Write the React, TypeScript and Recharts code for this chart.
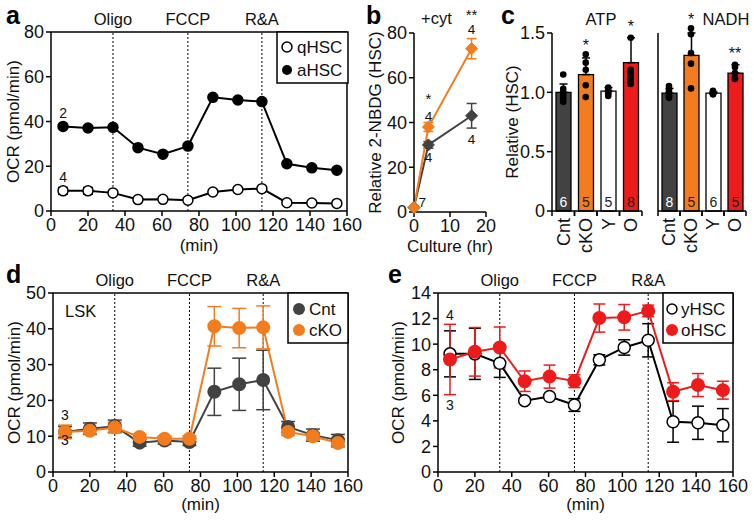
import React from 'react';
import {
  LineChart, Line, XAxis, YAxis, ErrorBar, ReferenceLine, ReferenceDot, Label,
  ComposedChart, Bar, Cell, LabelList,
} from 'recharts';

const FONT = '"Liberation Sans", Arial, Helvetica, sans-serif';
const ORANGE = '#f27c1e';
const RED = '#ec1c1c';
const DARK = '#424242';
const INK = '#111';

// Seahorse time points (min), shared by a, d, e
const times = [6.5, 20, 33.5, 47, 60.5, 74, 87.5, 101, 114, 127.5, 141, 154.5];
const injections = [
  { t: 33.5, name: 'Oligo' },
  { t: 74, name: 'FCCP' },
  { t: 114, name: 'R&A' },
];
const minTicks = [0, 20, 40, 60, 80, 100, 120, 140, 160];

// a
const qHSC = [9.0, 9.0, 8.1, 5.1, 5.2, 4.8, 8.5, 9.6, 10.0, 3.7, 3.6, 3.4];
const qHSCErr = [1.5, 1.5, 0, 0, 0, 0, 0, 0, 0, 0, 0, 0];
const aHSC = [37.8, 37.1, 37.4, 28.3, 25.4, 29.0, 50.8, 49.6, 48.9, 21.1, 19.3, 18.2];
const aNotes = [
  { t: 6.5, v: 44, s: '2' },
  { t: 6.5, v: 15.4, s: '4' },
];

// b
const cultureHr = [0, 4, 16];
const nbdgCnt = [2, 30, 43];
const nbdgCntErr = [0, 1.5, 5.5];
const nbdgCko = [2, 38, 73];
const nbdgCkoErr = [0, 2, 4.5];
const bNotes = [
  { h: 4, v: 50.5, s: '*' },
  { h: 4, v: 43, s: '4' },
  { h: 4, v: 24.5, s: '4' },
  { h: 16, v: 88, s: '**' },
  { h: 16, v: 81.5, s: '4' },
  { h: 16, v: 32.5, s: '4' },
  { h: 2.3, v: 4.5, s: '7' },
];

// c
const groups = ['Cnt', 'cKO', 'Y', 'O'];
const atpMean = [1.0, 1.15, 1.01, 1.25];
const atpSd = [0.07, 0.14, 0.03, 0.21];
const atpN = [6, 5, 5, 8];
const atpDots = [
  [1.15, 1.03, 1.0, 0.98, 0.95, 0.92],
  [1.32, 1.25, 1.19, 1.06, 0.96],
  [1.04, 1.02, 1.0, 0.99, 0.97],
  [1.46, 1.19, 1.16, 1.13, 1.11, 1.09, 1.08, 1.07],
];
const atpStars = [
  { g: 'cKO', v: 1.4, s: '*' },
  { g: 'O', v: 1.56, s: '*' },
];
const nadhMean = [1.0, 1.32, 1.0, 1.17];
const nadhSd = [0.04, 0.19, 0.01, 0.07];
const nadhN = [8, 5, 6, 5];
const nadhDots = [
  [1.06, 1.03, 1.01, 1.0, 0.99, 0.98, 0.97, 0.96],
  [1.55, 1.5, 1.34, 1.25, 1.04],
  [1.02, 1.01, 1.0, 1.0, 0.99, 0.99],
  [1.24, 1.22, 1.17, 1.13, 1.12],
];
const nadhStars = [
  { g: 'cKO', v: 1.63, s: '*' },
  { g: 'O', v: 1.34, s: '**' },
];

// d
const lskCnt = [11.2, 12.1, 12.8, 8.2, 8.8, 8.4, 22.4, 24.5, 25.7, 12.6, 10.3, 8.9];
const lskCntErr = [1.5, 1.6, 1.7, 1, 1, 1, 6.6, 7.3, 8.3, 1.5, 1.7, 1.6];
const lskCko = [11.2, 11.5, 12.4, 9.8, 9.3, 9.3, 40.7, 40.2, 40.4, 11.2, 10, 8.1];
const lskCkoErr = [1.9, 0.8, 1.5, 0.7, 0.7, 0.8, 5.5, 5.5, 6, 1, 1, 1.2];
const dNotes = [
  { t: 6.5, v: 16, s: '3' },
  { t: 6.5, v: 8.9, s: '3' },
];

// e
const yHSC = [9.24, 9.24, 8.5, 5.58, 5.9, 5.24, 8.77, 9.74, 10.3, 3.93, 3.85, 3.66];
const yHSCErr = [1.8, 2, 1.1, 0.2, 0.1, 0.5, 0.4, 0.6, 1.3, 1.6, 1.3, 1.3];
const oHSC = [8.8, 9.4, 9.74, 7.1, 7.46, 7.1, 12.04, 12.1, 12.6, 6.28, 6.8, 6.4];
const oHSCErr = [2.75, 1.9, 1.6, 0.8, 0.9, 0.5, 1.1, 1.0, 0.45, 0.7, 0.9, 0.7];
const eNotes = [
  { t: 6.5, v: 12.3, s: '4' },
  { t: 6.5, v: 5.2, s: '3' },
];

const aData = times.map((t, i) => ({ t, q: qHSC[i], qe: qHSCErr[i], a: aHSC[i] }));
const bData = cultureHr.map((h, i) => ({
  h, cnt: nbdgCnt[i], cntE: nbdgCntErr[i], cko: nbdgCko[i], ckoE: nbdgCkoErr[i],
}));
const atpData = groups.map((g, i) => ({ g, v: atpMean[i], e: [0, atpSd[i]], n: atpN[i] }));
const nadhData = groups.map((g, i) => ({ g, v: nadhMean[i], e: [0, nadhSd[i]], n: nadhN[i] }));
const dData = times.map((t, i) => ({ t, c: lskCnt[i], ce: lskCntErr[i], k: lskCko[i], ke: lskCkoErr[i] }));
const eData = times.map((t, i) => ({ t, y: yHSC[i], ye: yHSCErr[i], o: oHSC[i], oe: oHSCErr[i] }));

const barFills = [DARK, ORANGE, '#fff', RED];
const nColors = ['#fff', '#222', '#222', '#222'];

const TICK = 18;
const TITLE = 17;
const axisProps = {
  axisLine: { stroke: '#000', strokeWidth: 1.5 },
  tickLine: { stroke: '#000', strokeWidth: 1.5 },
  tickSize: 5,
  interval: 0 as const,
  tick: { fontSize: TICK, fill: INK, fontFamily: FONT },
};

function note(key: string, x: number | string, y: number, s: string, size = 14) {
  return (
    <ReferenceDot
      key={key}
      x={x as any}
      y={y}
      r={0}
      fill="none"
      stroke="none"
      ifOverflow="visible"
      label={{ value: s, position: 'center', fontSize: size, fill: INK, fontFamily: FONT }}
    />
  );
}

function injectionLines() {
  return injections.map((inj) => (
    <ReferenceLine
      key={inj.name}
      x={inj.t}
      stroke="#000"
      strokeWidth={1}
      strokeDasharray="2 2"
      label={{ value: inj.name, position: 'top', offset: 7, fontSize: 16.5, fill: INK, fontFamily: FONT }}
    />
  ));
}

const diamond = (color: string) => (p: any) => {
  const { cx, cy, index } = p;
  const s = 6;
  return (
    <polygon
      key={`dm${index}`}
      points={`${cx},${cy - s} ${cx + s},${cy} ${cx},${cy + s} ${cx - s},${cy}`}
      fill={color}
      stroke={color}
    />
  );
};

// rotated category label, plus tick marks on the band edges
function RotTick(props: any) {
  const { x, y, payload, half } = props;
  return (
    <g transform={`translate(${x},${y})`}>
      <line x1={-half} x2={-half} y1={-5} y2={0} stroke="#000" strokeWidth={1.5} />
      <line x1={half} x2={half} y1={-5} y2={0} stroke="#000" strokeWidth={1.5} />
      <text transform="rotate(-90)" x={-2} y={0} dy="0.36em" textAnchor="end" fontSize={18} fill={INK} fontFamily={FONT}>
        {payload.value}
      </text>
    </g>
  );
}

function OcrChart(props: {
  data: any[]; ymax: number; yticks: number[]; margin: any; width: number; height: number; children: any; xh: number; yoff: number;
}) {
  const { data, ymax, yticks, margin, width, height, children, xh, yoff } = props;
  return (
    <LineChart width={width} height={height} data={data} margin={margin} style={{ fontFamily: FONT }}>
      <XAxis dataKey="t" type="number" domain={[0, 160]} ticks={minTicks} height={xh} {...axisProps}>
        <Label value="(min)" position="insideBottom" offset={0} fontSize={TITLE} fill={INK} fontFamily={FONT} />
      </XAxis>
      <YAxis type="number" domain={[0, ymax]} ticks={yticks} width={40} {...axisProps}>
        <Label
          value="OCR (pmol/min)"
          angle={-90}
          position="insideLeft"
          offset={yoff}
          fontSize={TITLE}
          fill={INK}
          fontFamily={FONT}
          style={{ textAnchor: 'middle' }}
        />
      </YAxis>
      <ReferenceLine y={ymax} stroke="#000" strokeWidth={1.5} />
      <ReferenceLine x={160} stroke="#000" strokeWidth={1.5} />
      {injectionLines()}
      {children}
    </LineChart>
  );
}

function BarPanel(props: {
  data: any[]; dots: number[][]; stars: any[]; showLabels: boolean; width: number; margin: any; yw: number; half: number;
}) {
  const { data, dots, stars, showLabels, width, margin, yw, half } = props;
  return (
    <ComposedChart width={width} height={260} data={data} margin={margin} style={{ fontFamily: FONT }}>
      <XAxis
        dataKey="g"
        type="category"
        height={45}
        axisLine={{ stroke: '#000', strokeWidth: 1.5 }}
        tickLine={false}
        tickSize={5}
        tickMargin={0}
        tick={<RotTick half={half} />}
        interval={0}
      />
      <YAxis
        type="number"
        domain={[0, 1.5]}
        ticks={[0, 0.5, 1, 1.5]}
        width={yw}
        {...axisProps}
        tick={showLabels ? { fontSize: TICK, fill: INK, fontFamily: FONT } : false}
        tickFormatter={(v: number) => (v === 0 ? '0' : v.toFixed(1))}
      >
        {showLabels && (
          <Label
            value="Relative (HSC)"
            angle={-90}
            position="insideLeft"
            offset={0}
            fontSize={TITLE}
            fill={INK}
            fontFamily={FONT}
            style={{ textAnchor: 'middle' }}
          />
        )}
      </YAxis>
      <Bar dataKey="v" barSize={15} stroke="#000" strokeWidth={1.3} isAnimationActive={false}>
        {data.map((d, i) => <Cell key={d.g} fill={barFills[i]} />)}
        <ErrorBar dataKey="e" width={4} stroke="#000" strokeWidth={1.5} direction="y" />
        <LabelList
          dataKey="n"
          content={(p: any) => (
            <text
              key={`n${p.index}`}
              x={p.x + p.width / 2}
              y={p.y + p.height - 4}
              textAnchor="middle"
              fontSize={14}
              fill={nColors[p.index]}
              fontFamily={FONT}
            >
              {p.value}
            </text>
          )}
        />
      </Bar>
      {dots.flatMap((vals, gi) =>
        vals.map((v, k) => (
          <ReferenceDot key={`dot${gi}-${k}`} x={groups[gi]} y={v} r={3.3} fill="#000" stroke="none" ifOverflow="visible" />
        )),
      )}
      {stars.map((s, i) => note(`st${i}`, s.g, s.v, s.s, 16))}
    </ComposedChart>
  );
}

export default function App() {
  return (
    <div style={{ position: 'absolute', left: 0, top: 0, width: 754, height: 524, background: '#fff', overflow: 'hidden', fontFamily: FONT }}>
      {/* a */}
      <div style={{ position: 'absolute', left: 0, top: 0 }}>
        <OcrChart
          data={aData}
          ymax={80}
          yticks={[0, 20, 40, 60, 80]}
          width={370}
          height={260}
          margin={{ top: 32, right: 23, bottom: 9, left: 11 }}
          xh={40}
          yoff={2}
        >
          <Line dataKey="a" stroke="#000" strokeWidth={2} dot={{ r: 5, fill: '#000', stroke: '#000', strokeWidth: 1.5 }} isAnimationActive={false} />
          <Line dataKey="q" stroke="#000" strokeWidth={2} dot={{ r: 5, fill: '#fff', stroke: '#000', strokeWidth: 1.5 }} isAnimationActive={false}>
            <ErrorBar dataKey="qe" width={5} stroke="#000" strokeWidth={1.5} direction="y" />
          </Line>
          {aNotes.map((n, i) => note(`an${i}`, n.t, n.v, n.s))}
        </OcrChart>
      </div>

      {/* b */}
      <div style={{ position: 'absolute', left: 360, top: 0 }}>
        <LineChart width={140} height={260} data={bData} margin={{ top: 33, right: 14, bottom: 8, left: 14 }} style={{ fontFamily: FONT }}>
          <XAxis dataKey="h" type="number" domain={[0, 20]} ticks={[0, 10, 20]} height={40} {...axisProps}>
            <Label value="Culture (hr)" position="insideBottom" offset={0} fontSize={TITLE} fill={INK} fontFamily={FONT} />
          </XAxis>
          <YAxis type="number" domain={[0, 80]} ticks={[0, 20, 40, 60, 80]} width={40} {...axisProps}>
            <Label
              value="Relative 2-NBDG (HSC)"
              angle={-90}
              position="insideLeft"
              offset={1}
              fontSize={TITLE}
              fill={INK}
              fontFamily={FONT}
              style={{ textAnchor: 'middle' }}
            />
          </YAxis>
          <Line dataKey="cnt" stroke={DARK} strokeWidth={2} dot={diamond(DARK)} isAnimationActive={false}>
            <ErrorBar dataKey="cntE" width={5} stroke={DARK} strokeWidth={1.5} direction="y" />
          </Line>
          <Line dataKey="cko" stroke={ORANGE} strokeWidth={2} dot={diamond(ORANGE)} isAnimationActive={false}>
            <ErrorBar dataKey="ckoE" width={5} stroke={ORANGE} strokeWidth={1.5} direction="y" />
          </Line>
          {bNotes.map((n, i) => note(`bn${i}`, n.h, n.v, n.s, n.s.includes('*') ? 15 : 13.5))}
        </LineChart>
      </div>

      {/* c */}
      <div style={{ position: 'absolute', left: 490, top: 0 }}>
        <BarPanel data={atpData} dots={atpDots} stars={atpStars} showLabels width={160} yw={40} half={11.25} margin={{ top: 33, right: 8, bottom: 4, left: 22 }} />
      </div>
      <div style={{ position: 'absolute', left: 650, top: 0 }}>
        <BarPanel data={nadhData} dots={nadhDots} stars={nadhStars} showLabels={false} width={104} yw={8} half={11} margin={{ top: 33, right: 8, bottom: 4, left: 0 }} />
      </div>

      {/* d */}
      <div style={{ position: 'absolute', left: 0, top: 262 }}>
        <OcrChart
          data={dData}
          ymax={50}
          yticks={[0, 10, 20, 30, 40, 50]}
          width={370}
          height={262}
          margin={{ top: 31, right: 22, bottom: 14, left: 13 }}
          xh={38}
          yoff={1}
        >
          <Line dataKey="c" stroke={DARK} strokeWidth={2} dot={{ r: 6, fill: DARK, stroke: DARK }} isAnimationActive={false}>
            <ErrorBar dataKey="ce" width={7} stroke={DARK} strokeWidth={1.5} direction="y" />
          </Line>
          <Line dataKey="k" stroke={ORANGE} strokeWidth={2} dot={{ r: 6, fill: ORANGE, stroke: ORANGE }} isAnimationActive={false}>
            <ErrorBar dataKey="ke" width={7} stroke={ORANGE} strokeWidth={1.5} direction="y" />
          </Line>
          {dNotes.map((n, i) => note(`dn${i}`, n.t, n.v, n.s))}
        </OcrChart>
      </div>

      {/* e */}
      <div style={{ position: 'absolute', left: 384, top: 262 }}>
        <OcrChart
          data={eData}
          ymax={14}
          yticks={[0, 2, 4, 6, 8, 10, 12, 14]}
          width={370}
          height={262}
          margin={{ top: 31, right: 21, bottom: 14, left: 14 }}
          xh={38}
          yoff={0}
        >
          <Line dataKey="y" stroke="#000" strokeWidth={2} dot={{ r: 6, fill: '#fff', stroke: '#000', strokeWidth: 1.5 }} isAnimationActive={false}>
            <ErrorBar dataKey="ye" width={6} stroke="#000" strokeWidth={1.5} direction="y" />
          </Line>
          <Line dataKey="o" stroke={RED} strokeWidth={2} dot={{ r: 6, fill: RED, stroke: RED }} isAnimationActive={false}>
            <ErrorBar dataKey="oe" width={6} stroke={RED} strokeWidth={1.5} direction="y" />
          </Line>
          {eNotes.map((n, i) => note(`en${i}`, n.t, n.v, n.s))}
        </OcrChart>
      </div>

      {/* panel letters, titles, legends */}
      <svg width={754} height={524} style={{ position: 'absolute', left: 0, top: 0, pointerEvents: 'none' }} fontFamily={FONT} fill={INK}>
        <g fontSize={25} fontWeight="bold" fill="#000">
          <text x={6} y={24}>a</text>
          <text x={366} y={24}>b</text>
          <text x={501} y={24}>c</text>
          <text x={6} y={283}>d</text>
          <text x={388} y={283}>e</text>
        </g>
        <g fontSize={16.5}>
          <text x={421} y={24}>+cyt</text>
          <text x={601} y={25} textAnchor="middle">ATP</text>
          <text x={726} y={25} textAnchor="middle">NADH</text>
          <text x={65} y={317}>LSK</text>
        </g>
        <g fontSize={17}>
          <rect x={277} y={32} width={71} height={51} fill="#fff" stroke="#000" strokeWidth={1.5} />
          <circle cx={287} cy={47} r={5} fill="#fff" stroke="#000" strokeWidth={1.5} />
          <text x={297} y={53}>qHSC</text>
          <circle cx={287} cy={70} r={5} fill="#000" />
          <text x={297} y={76}>aHSC</text>

          <rect x={288} y={293} width={60} height={50} fill="#fff" stroke="#000" strokeWidth={1.5} />
          <circle cx={299} cy={309} r={6} fill={DARK} />
          <text x={309} y={315}>Cnt</text>
          <circle cx={299} cy={330} r={6} fill={ORANGE} />
          <text x={309} y={336}>cKO</text>

          <rect x={663} y={293} width={70} height={50} fill="#fff" stroke="#000" strokeWidth={1.5} />
          <circle cx={672} cy={309} r={5} fill="#fff" stroke="#000" strokeWidth={1.5} />
          <text x={681} y={315}>yHSC</text>
          <circle cx={672} cy={330} r={6} fill={RED} />
          <text x={681} y={336}>oHSC</text>
        </g>
      </svg>
    </div>
  );
}
